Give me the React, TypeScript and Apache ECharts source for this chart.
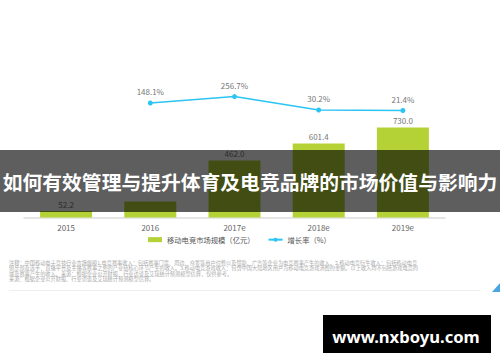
import React, { useEffect, useRef } from "react";
import * as echarts from "echarts";

const categories = ["2015", "2016", "2017e", "2018e", "2019e"];
const marketSize = [52.2, 129.5, 462.0, 601.4, 730.0];
const growthRate: (number | null)[] = [null, 148.1, 256.7, 30.2, 21.4];
const hiddenBarLabels = ["2016"];
const legendNames = ["移动电竞市场规模（亿元）", "增长率（%）"];
const bannerTitle = "如何有效管理与提升体育及电竞品牌的市场价值与影响力";
const notes = [
  "注释：中国移动电子竞技行业市场规模1.电竞赛事收入：包括赛事门票、周边、众筹等用户付费以及赞助、广告等企业为电竞赛事产生的收入。2.移动电竞衍生收入：包括移动电竞",
  "俱乐部及选手、直播平台及主播等赛事之外的产业链核心环节产生的收入。3.移动电竞游戏收入：包含中国大陆地区用户为移动电竞游戏消费的金额。以上收入均不包括游戏电竞的",
  "城及赛事产生的收入。来源：根据企业公开财报、行业访谈及艾瑞统计预测模型估算，仅供参考。",
  "来源：根据企业公开财报、行业访谈及艾瑞统计预测模型估算。",
];
const watermark = "www.nxboyu.com";

export default function App() {
  const ref = useRef<HTMLDivElement>(null);
  useEffect(() => {
    const chart = echarts.init(ref.current!, null, { renderer: "svg" });
    const cjk = "'Noto Sans CJK SC', 'Noto Sans', sans-serif";
    const noteY = [262, 267.6, 273.2, 278.8];
    const barData = marketSize.map((v, i) =>
      hiddenBarLabels.includes(categories[i]) ? { value: v, label: { show: false } } : v
    );
    chart.setOption({
      animation: false,
      backgroundColor: "#ffffff",
      textStyle: { fontFamily: cjk },
      grid: [
        { left: 24, right: 55, top: 118.9, bottom: 144.5 },
        { left: 24, right: 55, top: 94.0, bottom: 250.2 },
      ],
      legend: {
        left: 148,
        top: 236,
        padding: 0,
        itemWidth: 14,
        itemHeight: 5,
        itemGap: 13,
        textStyle: { fontSize: 7.3, color: "#555", fontFamily: cjk },
        data: [
          { name: legendNames[0], icon: "rect" },
          { name: legendNames[1] },
        ],
      },
      xAxis: [
        {
          type: "category",
          data: categories,
          gridIndex: 0,
          axisLine: { lineStyle: { color: "#dddddd", width: 1.5 } },
          axisTick: { show: false },
          axisLabel: { fontSize: 8, color: "#666", margin: 6 },
        },
        {
          type: "category",
          data: categories,
          gridIndex: 1,
          show: false,
        },
      ],
      yAxis: [
        { type: "value", gridIndex: 0, min: 0, max: 800, show: false, splitLine: { show: false } },
        { type: "value", gridIndex: 1, min: 0, max: 300, show: false, splitLine: { show: false } },
      ],
      series: [
        {
          name: legendNames[0],
          type: "bar",
          data: barData,
          barWidth: 52,
          itemStyle: { color: "#b4d235" },
          label: {
            show: true,
            position: "top",
            distance: 3,
            fontSize: 8,
            color: "#777",
            formatter: (p: any) => Number(p.value).toFixed(1),
          },
        },
        {
          name: legendNames[1],
          type: "line",
          xAxisIndex: 1,
          yAxisIndex: 1,
          data: growthRate,
          symbol: "circle",
          symbolSize: 5,
          lineStyle: { color: "#2bc4f3", width: 1.5 },
          itemStyle: { color: "#2bc4f3" },
          label: {
            show: true,
            position: "top",
            distance: 5,
            fontSize: 8,
            color: "#777",
            formatter: (p: any) => Number(p.value).toFixed(1) + "%",
          },
        },
      ],
      graphic: [
        ...notes.map((t, i) => ({
          type: "text",
          x: 9,
          y: noteY[i],
          z: 50,
          style: {
            text: t,
            fontSize: 5.2,
            lineHeight: 5.4,
            fill: "#aaaaaa",
            fontFamily: cjk,
            textVerticalAlign: "middle",
          },
        })),
        {
          type: "line",
          z: 50,
          shape: { x1: 9, y1: 290.5, x2: 480, y2: 290.5 },
          style: { stroke: "#eeeeee", lineWidth: 1 },
        },
        {
          type: "polygon",
          z: 50,
          shape: { points: [[492, 292], [500, 292], [500, 283]] },
          style: { fill: "#4aa6e0" },
        },
        {
          type: "rect",
          z: 100,
          shape: { x: 0, y: 150, width: 500, height: 62 },
          style: { fill: "rgba(0,0,0,0.63)" },
        },
        {
          type: "text",
          z: 101,
          x: 250,
          y: 181,
          style: {
            text: bannerTitle,
            fontSize: 19.8,
            fontWeight: "bold",
            fill: "#ffffff",
            fontFamily: cjk,
            textAlign: "center",
            textVerticalAlign: "middle",
          },
        },
        {
          type: "rect",
          z: 100,
          shape: { x: 323, y: 315, width: 168, height: 38 },
          style: { fill: "#000000" },
        },
        {
          type: "text",
          z: 101,
          x: 406,
          y: 336,
          style: {
            text: watermark,
            fontSize: 16.6,
            fontWeight: "bold",
            fill: "#ffffff",
            fontFamily: "'Noto Sans', 'Open Sans', sans-serif",
            textAlign: "center",
            textVerticalAlign: "middle",
          },
        },
      ],
    });
    return () => chart.dispose();
  }, []);
  return (
    <div
      ref={ref}
      style={{ position: "fixed", left: 0, top: 0, width: 500, height: 362, background: "#fff" }}
    />
  );
}
